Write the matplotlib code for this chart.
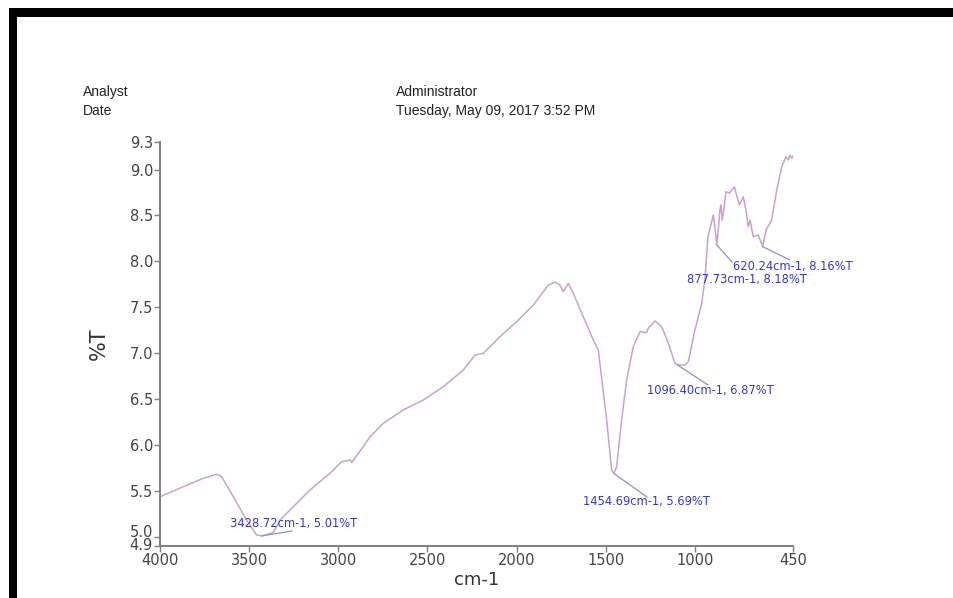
import matplotlib
matplotlib.use("Agg")
import matplotlib.pyplot as plt
from matplotlib.patches import Rectangle
from matplotlib.transforms import ScaledTranslation

# FTIR transmission spectrum (wavenumber in cm-1, transmittance in %T)
wavenumber = [4000, 3869, 3757, 3682, 3654, 3589, 3514, 3458, 3428.72, 3365,
              3327, 3271, 3159, 3047, 2981, 2934, 2925, 2860, 2822, 2748,
              2636, 2523, 2411, 2299, 2233, 2187, 2093, 2000, 1906, 1822,
              1785, 1757, 1738, 1710, 1682, 1626, 1570, 1542, 1495, 1467,
              1454.69, 1439, 1411, 1383, 1346, 1308, 1271, 1262, 1224, 1186,
              1149, 1112, 1096.40, 1056, 1037, 1000, 962, 944, 927, 897,
              886, 877.73, 869, 860, 854, 847, 841, 826, 807, 779,
              751, 729, 714, 701, 691, 673, 645, 620.24, 601, 570,
              541, 513, 489, 476, 467, 457, 450]
transmittance = [5.437, 5.546, 5.637, 5.681, 5.655, 5.437, 5.183, 5.020, 5.01, 5.045,
                 5.183, 5.292, 5.510, 5.692, 5.818, 5.837, 5.810, 5.982, 6.090, 6.236,
                 6.381, 6.490, 6.635, 6.817, 6.980, 6.999, 7.180, 7.343, 7.525, 7.743,
                 7.772, 7.743, 7.670, 7.761, 7.652, 7.397, 7.144, 7.035, 6.272, 5.728,
                 5.69, 5.764, 6.272, 6.708, 7.071, 7.234, 7.223, 7.271, 7.351, 7.288,
                 7.108, 6.890, 6.87, 6.871, 6.907, 7.252, 7.543, 7.800, 8.265, 8.505,
                 8.342, 8.18, 8.342, 8.559, 8.614, 8.450, 8.524, 8.759, 8.741, 8.813,
                 8.614, 8.704, 8.559, 8.378, 8.450, 8.269, 8.287, 8.16, 8.342, 8.450,
                 8.777, 9.031, 9.140, 9.104, 9.158, 9.122, 9.150]

# Labelled peaks: position, value, leader end point, label anchor
peak_wn = [3428.72, 1454.69, 1096.40, 877.73, 620.24]
peak_t = [5.01, 5.69, 6.87, 8.18, 8.16]
leader_wn = [3260, 1269, 927, 792, 467]
leader_t = [5.063, 5.434, 6.654, 7.993, 8.015]
label_wn = [3607, 1628, 1269, 1044, 786]
label_t = [5.14, 5.38, 6.59, 7.80, 7.94]

xticks = [4000, 3500, 3000, 2500, 2000, 1500, 1000, 450]
yticks = [4.9, 5.0, 5.5, 6.0, 6.5, 7.0, 7.5, 8.0, 8.5, 9.0, 9.3]

W, H = 954, 598
fig = plt.figure(figsize=(W / 100, H / 100), dpi=100)
fig.patch.set_facecolor("white")

ax = fig.add_axes([160 / W, 1 - 546 / H, (793 - 160) / W, (546 - 142) / H])
ax.plot(wavenumber, transmittance, color="#c9a2cb", lw=1.1)

ax.set_xlim(4000, 450)
ax.set_ylim(4.9, 9.3)
ax.set_xticks(xticks)
ax.set_xticklabels([str(v) for v in xticks])
ax.set_yticks(yticks)
ax.set_yticklabels([f"{v:.1f}" for v in yticks])

grey = "#7f7f7f"
for side in ("top", "right"):
    ax.spines[side].set_visible(False)
for side in ("left", "bottom"):
    ax.spines[side].set_color(grey)
    ax.spines[side].set_linewidth(1.4)
ax.tick_params(axis="both", colors=grey, length=4, width=1.0,
               labelsize=10.5, labelcolor="#444444", pad=1)

# Spread the two crowded labels at the bottom of the y axis apart
ylabels = ax.get_yticklabels()
for lab, dy in ((ylabels[0], 1.5), (ylabels[1], 5.5)):
    lab.set_transform(lab.get_transform() + ScaledTranslation(0, dy / 100, fig.dpi_scale_trans))

ax.set_xlabel("cm-1", fontsize=13, color="#333333", labelpad=2)
ax.set_ylabel("%T", fontsize=15, color="#333333", labelpad=15)

blue = "#3434dc"
for pw, pt, lw_, lt, tw, tt in zip(peak_wn, peak_t, leader_wn, leader_t, label_wn, label_t):
    ax.plot([pw, lw_], [pt, lt], color="#8c8ce0", lw=0.9, clip_on=False)
    ax.text(tw, tt, f"{pw:.2f}cm-1, {pt:.2f}%T", color=blue, fontsize=8.3,
            ha="left", va="center", clip_on=False)

# Report header
hdr = dict(fontsize=10, family="Liberation Sans", color="#222222", va="center", ha="left")
fig.text(83 / W, 1 - 92 / H, "Analyst", **hdr)
fig.text(83 / W, 1 - 111 / H, "Date", **hdr)
fig.text(396 / W, 1 - 92 / H, "Administrator", **hdr)
fig.text(396 / W, 1 - 111 / H, "Tuesday, May 09, 2017 3:52 PM", **hdr)

# Black page frame along top and left edges
fig.add_artist(Rectangle((9 / W, 1 - 17 / H), (W - 9) / W, 9 / H,
                         transform=fig.transFigure, color="black", lw=0))
fig.add_artist(Rectangle((9 / W, 0), 8 / W, 1 - 8 / H,
                         transform=fig.transFigure, color="black", lw=0))

fig.savefig("out.png", dpi=100, facecolor="white")
